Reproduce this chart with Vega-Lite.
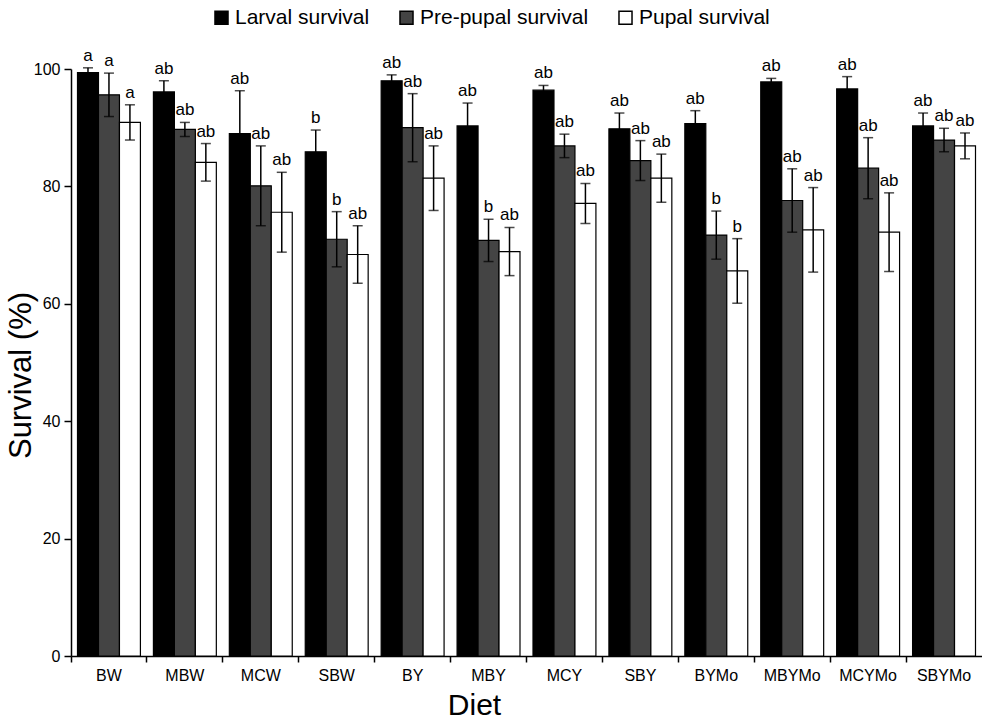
{
  "$schema": "https://vega.github.io/schema/vega-lite/v6.json",
  "width": 911,
  "height": 587,
  "autosize": "none",
  "padding": {"left": 71, "top": 69, "right": 0, "bottom": 65},
  "background": "white",
  "config": {
    "font": "Liberation Sans",
    "view": {"stroke": null},
    "axis": {"domainColor": "black", "tickColor": "black", "labelColor": "black", "titleColor": "black", "grid": false, "domainWidth": 1.5, "tickWidth": 1.5, "titleFontWeight": "normal"}
  },
  "data": {
    "values": [
      {"diet": "BW", "stage": "Larval survival", "value": 99.4, "lo": 98.6, "hi": 100.2, "letter": "a"},
      {"diet": "BW", "stage": "Pre-pupal survival", "value": 95.6, "lo": 91.9, "hi": 99.3, "letter": "a"},
      {"diet": "BW", "stage": "Pupal survival", "value": 90.9, "lo": 87.9, "hi": 93.9, "letter": "a"},
      {"diet": "MBW", "stage": "Larval survival", "value": 96.1, "lo": 94.2, "hi": 98.0, "letter": "ab"},
      {"diet": "MBW", "stage": "Pre-pupal survival", "value": 89.7, "lo": 88.5, "hi": 90.9, "letter": "ab"},
      {"diet": "MBW", "stage": "Pupal survival", "value": 84.1, "lo": 80.9, "hi": 87.3, "letter": "ab"},
      {"diet": "MCW", "stage": "Larval survival", "value": 89.0, "lo": 81.7, "hi": 96.3, "letter": "ab"},
      {"diet": "MCW", "stage": "Pre-pupal survival", "value": 80.1, "lo": 73.3, "hi": 86.9, "letter": "ab"},
      {"diet": "MCW", "stage": "Pupal survival", "value": 75.6, "lo": 68.8, "hi": 82.4, "letter": "ab"},
      {"diet": "SBW", "stage": "Larval survival", "value": 85.9, "lo": 82.2, "hi": 89.6, "letter": "b"},
      {"diet": "SBW", "stage": "Pre-pupal survival", "value": 71.0, "lo": 66.3, "hi": 75.7, "letter": "b"},
      {"diet": "SBW", "stage": "Pupal survival", "value": 68.4, "lo": 63.5, "hi": 73.3, "letter": "ab"},
      {"diet": "BY", "stage": "Larval survival", "value": 98.0, "lo": 97.0, "hi": 99.0, "letter": "ab"},
      {"diet": "BY", "stage": "Pre-pupal survival", "value": 90.0, "lo": 84.2, "hi": 95.8, "letter": "ab"},
      {"diet": "BY", "stage": "Pupal survival", "value": 81.4, "lo": 75.9, "hi": 86.9, "letter": "ab"},
      {"diet": "MBY", "stage": "Larval survival", "value": 90.3, "lo": 86.4, "hi": 94.2, "letter": "ab"},
      {"diet": "MBY", "stage": "Pre-pupal survival", "value": 70.8, "lo": 67.2, "hi": 74.4, "letter": "b"},
      {"diet": "MBY", "stage": "Pupal survival", "value": 68.9, "lo": 64.8, "hi": 73.0, "letter": "ab"},
      {"diet": "MCY", "stage": "Larval survival", "value": 96.4, "lo": 95.6, "hi": 97.2, "letter": "ab"},
      {"diet": "MCY", "stage": "Pre-pupal survival", "value": 86.9, "lo": 84.9, "hi": 88.9, "letter": "ab"},
      {"diet": "MCY", "stage": "Pupal survival", "value": 77.1, "lo": 73.7, "hi": 80.5, "letter": "ab"},
      {"diet": "SBY", "stage": "Larval survival", "value": 89.8, "lo": 87.1, "hi": 92.5, "letter": "ab"},
      {"diet": "SBY", "stage": "Pre-pupal survival", "value": 84.4, "lo": 81.0, "hi": 87.8, "letter": "ab"},
      {"diet": "SBY", "stage": "Pupal survival", "value": 81.4, "lo": 77.3, "hi": 85.5, "letter": "ab"},
      {"diet": "BYMo", "stage": "Larval survival", "value": 90.7, "lo": 88.5, "hi": 92.9, "letter": "ab"},
      {"diet": "BYMo", "stage": "Pre-pupal survival", "value": 71.7, "lo": 67.6, "hi": 75.8, "letter": "b"},
      {"diet": "BYMo", "stage": "Pupal survival", "value": 65.6, "lo": 60.1, "hi": 71.1, "letter": "b"},
      {"diet": "MBYMo", "stage": "Larval survival", "value": 97.8, "lo": 97.2, "hi": 98.4, "letter": "ab"},
      {"diet": "MBYMo", "stage": "Pre-pupal survival", "value": 77.6, "lo": 72.2, "hi": 83.0, "letter": "ab"},
      {"diet": "MBYMo", "stage": "Pupal survival", "value": 72.6, "lo": 65.4, "hi": 79.8, "letter": "ab"},
      {"diet": "MCYMo", "stage": "Larval survival", "value": 96.6, "lo": 94.5, "hi": 98.7, "letter": "ab"},
      {"diet": "MCYMo", "stage": "Pre-pupal survival", "value": 83.1, "lo": 77.9, "hi": 88.3, "letter": "ab"},
      {"diet": "MCYMo", "stage": "Pupal survival", "value": 72.2, "lo": 65.5, "hi": 78.9, "letter": "ab"},
      {"diet": "SBYMo", "stage": "Larval survival", "value": 90.3, "lo": 88.1, "hi": 92.5, "letter": "ab"},
      {"diet": "SBYMo", "stage": "Pre-pupal survival", "value": 87.9, "lo": 85.9, "hi": 89.9, "letter": "ab"},
      {"diet": "SBYMo", "stage": "Pupal survival", "value": 86.9, "lo": 84.7, "hi": 89.1, "letter": "ab"}
    ]
  },
  "encoding": {
    "x": {
      "field": "diet", "type": "nominal",
      "sort": ["BW", "MBW", "MCW", "SBW", "BY", "MBY", "MCY", "SBY", "BYMo", "MBYMo", "MCYMo", "SBYMo"],
      "scale": {"paddingInner": 0, "paddingOuter": 0},
      "axis": {
        "title": "Diet", "titleFontSize": 30, "titleX": 403, "titleY": 34, "titleBaseline": "top", "titleAnchor": null,
        "labelAngle": 0, "labelFontSize": 16, "labelPadding": 5,
        "bandPosition": 0, "tickSize": 6
      }
    },
    "xOffset": {
      "field": "stage", "type": "nominal",
      "sort": ["Larval survival", "Pre-pupal survival", "Pupal survival"],
      "scale": {"paddingInner": 0, "paddingOuter": 0.31}
    }
  },
  "layer": [
    {
      "mark": {"type": "bar", "stroke": "black", "strokeWidth": 1.2},
      "encoding": {
        "y": {
          "field": "value", "type": "quantitative",
          "scale": {"domain": [0, 100], "nice": false},
          "axis": {"title": "Survival (%)", "titleFontSize": 31, "values": [0, 20, 40, 60, 80, 100], "labelFontSize": 16, "tickSize": 7, "labelPadding": 4, "titleX": -50, "titleY": 306, "titleBaseline": "middle", "titleAnchor": null, "titleAngle": -90}
        },
        "color": {
          "field": "stage", "type": "nominal",
          "sort": ["Larval survival", "Pre-pupal survival", "Pupal survival"],
          "scale": {"domain": ["Larval survival", "Pre-pupal survival", "Pupal survival"], "range": ["#000000", "#444444", "#ffffff"]},
          "legend": {
            "title": null, "orient": "none", "direction": "horizontal", "legendX": 140, "legendY": -62,
            "symbolType": "square", "symbolSize": 170, "symbolStrokeColor": "black", "symbolStrokeWidth": 1.5,
            "labelFontSize": 21, "labelColor": "black", "labelOffset": 3, "columnPadding": 26, "labelLimit": 400
          }
        }
      }
    },
    {
      "mark": {"type": "rule", "color": "black", "strokeWidth": 1.5},
      "encoding": {
        "y": {"field": "lo", "type": "quantitative", "title": "Survival (%)"},
        "y2": {"field": "hi"}
      }
    },
    {
      "mark": {"type": "tick", "color": "black", "thickness": 1.5, "size": 10},
      "encoding": {"y": {"field": "lo", "type": "quantitative", "title": "Survival (%)"}}
    },
    {
      "mark": {"type": "tick", "color": "black", "thickness": 1.5, "size": 10},
      "encoding": {"y": {"field": "hi", "type": "quantitative", "title": "Survival (%)"}}
    },
    {
      "mark": {"type": "text", "baseline": "bottom", "dy": -3, "fontSize": 17, "color": "black"},
      "encoding": {
        "y": {"field": "hi", "type": "quantitative", "title": "Survival (%)"},
        "text": {"field": "letter"}
      }
    }
  ]
}
